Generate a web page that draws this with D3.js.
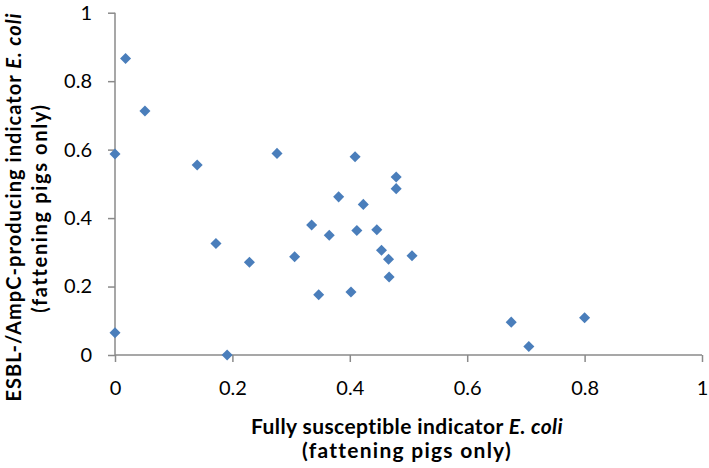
<!DOCTYPE html>
<html>
<head>
<meta charset="utf-8">
<script src="https://cdn.jsdelivr.net/npm/d3@7"></script>
<style>
  html, body { margin: 0; padding: 0; background: #fff; }
  svg { display: block; }
</style>
</head>
<body>
<svg id="chart" width="709" height="468"></svg>
<script>
// Data
const fullySusceptible = [0, 0, 0.018, 0.051, 0.140, 0.172, 0.191, 0.229, 0.276, 0.306,
  0.335, 0.347, 0.365, 0.381, 0.402, 0.409, 0.412, 0.423, 0.446, 0.454,
  0.466, 0.467, 0.479, 0.479, 0.506, 0.675, 0.705, 0.800];
const esblAmpC = [0.065, 0.587, 0.866, 0.713, 0.555, 0.326, 0.000, 0.271, 0.589, 0.287,
  0.380, 0.176, 0.350, 0.462, 0.184, 0.579, 0.364, 0.440, 0.366, 0.306,
  0.280, 0.228, 0.520, 0.486, 0.290, 0.096, 0.025, 0.109];
const xTicks = [0, 0.2, 0.4, 0.6, 0.8, 1];
const yTicks = [0, 0.2, 0.4, 0.6, 0.8, 1];
const xTitle = ["Fully susceptible indicator ", "E. coli", "(fattening pigs only)"];
const yTitle = ["ESBL-/AmpC-producing indicator ", "E. coli", "(fattening pigs only)"];

const points = fullySusceptible.map((x, i) => ({ x, y: esblAmpC[i] }));

const svg = d3.select("#chart");
const x = d3.scaleLinear().domain([0, 1]).range([115, 702]);
const y = d3.scaleLinear().domain([0, 1]).range([355, 12.7]);

const axisColor = "#8a8a8a";
const font = "Lato, 'Open Sans', sans-serif";
const fmt = d => String(d);

const gx = svg.append("g")
  .attr("transform", `translate(0,${y(0)})`)
  .call(d3.axisBottom(x).tickValues(xTicks).tickFormat(fmt).tickSize(7).tickPadding(19));
const gy = svg.append("g")
  .attr("transform", `translate(${x(0)},0)`)
  .call(d3.axisLeft(y).tickValues(yTicks).tickFormat(fmt).tickSize(7).tickPadding(16));

[gx, gy].forEach(g => {
  g.select(".domain").attr("stroke", axisColor).attr("stroke-width", 1.5);
  g.selectAll(".tick line").attr("stroke", axisColor).attr("stroke-width", 1.5);
  g.selectAll(".tick text").attr("fill", "#000").style("font-family", font).style("font-size", "20px");
});
gx.select(".domain").attr("d", `M${x(0)},0H${x(1)}`);
gy.select(".domain").attr("d", `M0,${y(1)}V${y(0)}`);

// Markers (diamonds)
svg.append("g").selectAll("path")
  .data(points)
  .join("path")
  .attr("d", d3.symbol().type(d3.symbolSquare).size(61))
  .attr("transform", d => `translate(${x(d.x)},${y(d.y)}) rotate(45)`)
  .attr("fill", "#4a7ebb");

// helper: stretch a text to a target width via letter-spacing
function fitWidth(sel, target) {
  const node = sel.node();
  const w = node.getComputedTextLength();
  const n = node.textContent.length;
  const ls = (target - w) / Math.max(1, n - 1);
  sel.style("letter-spacing", ls + "px");
}

// X title
const xc = 407;
const xt = svg.append("text")
  .attr("x", xc).attr("y", 434)
  .attr("text-anchor", "middle")
  .style("font-family", font).style("font-size", "21px").style("font-weight", "bold");
xt.append("tspan").text(xTitle[0]);
xt.append("tspan").style("font-style", "italic").text(xTitle[1]);
fitWidth(xt, 312);
const xt2 = svg.append("text")
  .attr("x", xc).attr("y", 458)
  .attr("text-anchor", "middle")
  .style("font-family", font).style("font-size", "21px").style("font-weight", "bold")
  .text(xTitle[2]);
fitWidth(xt2, 208);

// Y title
const yt = svg.append("text")
  .attr("transform", `translate(20.5,207) rotate(-90)`)
  .attr("text-anchor", "middle")
  .style("font-family", font).style("font-size", "20px").style("font-weight", "bold");
yt.append("tspan").text(yTitle[0]);
yt.append("tspan").style("font-style", "italic").text(yTitle[1]);
fitWidth(yt, 388);
const yt2 = svg.append("text")
  .attr("transform", `translate(46.5,208) rotate(-90)`)
  .attr("text-anchor", "middle")
  .style("font-family", font).style("font-size", "20px").style("font-weight", "bold")
  .text(yTitle[2]);
fitWidth(yt2, 207);
</script>
</body>
</html>
